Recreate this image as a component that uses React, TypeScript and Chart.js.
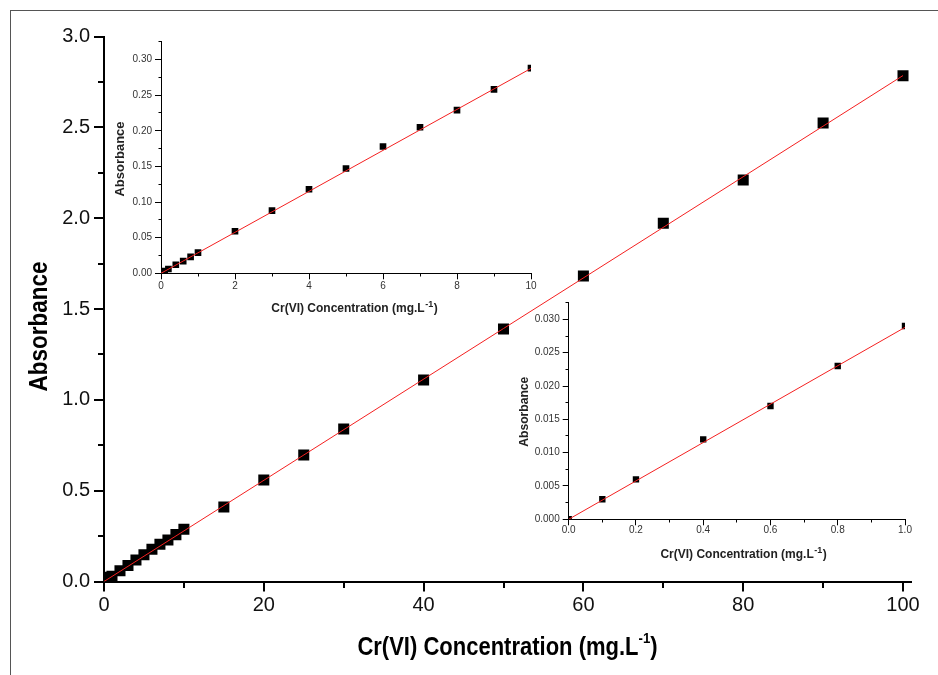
import React, { useEffect, useRef } from "react";
import { Chart, registerables } from "chart.js";

Chart.register(...registerables);

const FONT = "'Liberation Sans', Arial, Helvetica, sans-serif";

// ---- data ----
const concentration = [0, 0.1, 0.2, 0.4, 0.6, 0.8, 1, 2, 3, 4, 5, 6, 7, 8, 9, 10, 15, 20, 25, 30, 40, 50, 60, 70, 80, 90, 100];
const absorbance = [0, 0.003, 0.006, 0.012, 0.017, 0.023, 0.029, 0.059, 0.088, 0.118, 0.147, 0.178, 0.205, 0.229, 0.258, 0.288, 0.41, 0.559, 0.696, 0.839, 1.109, 1.39, 1.682, 1.972, 2.21, 2.524, 2.784];

const fitMainX = [0, 100];
const fitMainY = [0, 2.785];
const fitInsetAX = [0, 10];
const fitInsetAY = [0, 0.2875];
const fitInsetBX = [0, 1];
const fitInsetBY = [0, 0.0288];

// ---- texts ----
const xTitleMain = "Cr(VI) Concentration (mg.L";
const xTitleSup = "-1";
const xTitleTail = ")";
const yTitleText = "Absorbance";

// ---- ticks ----
const mainXMajor = [0, 20, 40, 60, 80, 100];
const mainXMinor = [10, 30, 50, 70, 90];
const mainYMajor = [0, 0.5, 1, 1.5, 2, 2.5, 3];
const mainYMinor = [0.25, 0.75, 1.25, 1.75, 2.25, 2.75];

const insetAXMajor = [0, 2, 4, 6, 8, 10];
const insetAXMinor = [1, 3, 5, 7, 9];
const insetAYMajor = [0, 0.05, 0.1, 0.15, 0.2, 0.25, 0.3];
const insetAYMinor = [0.025, 0.075, 0.125, 0.175, 0.225, 0.275, 0.325];

const insetBXMajor = [0, 0.2, 0.4, 0.6, 0.8, 1.0];
const insetBXMinor = [0.1, 0.3, 0.5, 0.7, 0.9];
const insetBYMajor = [0, 0.005, 0.01, 0.015, 0.02, 0.025, 0.03];
const insetBYMinor = [0.0025, 0.0075, 0.0125, 0.0175, 0.0225, 0.0275, 0.0325];

function align(v: number, w: number) {
  const h = w / 2;
  return Math.round(v - h) + h;
}

const minorTicksPlugin = {
  id: "minorTicks",
  afterDraw(chart: any, _a: any, o: any) {
    const { ctx, chartArea: a, scales } = chart;
    ctx.save();
    ctx.strokeStyle = o.color;
    ctx.lineWidth = o.width;
    const by = align(a.bottom, o.width);
    const lx = align(a.left, o.width);
    o.x.forEach((v: number) => {
      const px = align(scales.x.getPixelForValue(v), o.width);
      ctx.beginPath();
      ctx.moveTo(px, by);
      ctx.lineTo(px, by + o.length);
      ctx.stroke();
    });
    o.y.forEach((v: number) => {
      const py = align(scales.y.getPixelForValue(v), o.width);
      ctx.beginPath();
      ctx.moveTo(lx, py);
      ctx.lineTo(lx - o.length, py);
      ctx.stroke();
    });
    ctx.restore();
  },
};

const axisTitlesPlugin = {
  id: "axisTitles",
  afterDraw(chart: any, _a: any, o: any) {
    const { ctx, chartArea: a } = chart;
    ctx.save();
    ctx.fillStyle = o.color;
    ctx.textAlign = "left";
    ctx.textBaseline = "alphabetic";
    const mainFont = `bold ${o.xSize}px ${FONT}`;
    const supFont = `bold ${o.supSize}px ${FONT}`;
    ctx.font = mainFont;
    const w1 = ctx.measureText(xTitleMain).width;
    const w3 = ctx.measureText(xTitleTail).width;
    ctx.font = supFont;
    const w2 = ctx.measureText(xTitleSup).width;
    const total = (w1 + w2 + w3 + 2 * o.supGap) * o.xScale;
    const cx = (a.left + a.right) / 2 + o.xDx;
    ctx.translate(cx - total / 2, a.bottom + o.xBaseline);
    ctx.scale(o.xScale, 1);
    ctx.font = mainFont;
    ctx.fillText(xTitleMain, 0, 0);
    ctx.font = supFont;
    ctx.fillText(xTitleSup, w1 + o.supGap, -o.supRaise);
    ctx.font = mainFont;
    ctx.fillText(xTitleTail, w1 + w2 + 2 * o.supGap, 0);
    ctx.restore();

    ctx.save();
    ctx.fillStyle = o.color;
    ctx.translate(a.left + o.yBaseline, (a.top + a.bottom) / 2 + o.yDy);
    ctx.rotate(-Math.PI / 2);
    ctx.scale(o.yScale, 1);
    ctx.font = `bold ${o.ySize}px ${FONT}`;
    ctx.textAlign = "center";
    ctx.textBaseline = "alphabetic";
    ctx.fillText(yTitleText, 0, 0);
    ctx.restore();
  },
};

type Spec = {
  xLimit: number;
  xMin: number; xMax: number; yMin: number; yMax: number;
  xMajor: number[]; xMinor: number[]; yMajor: number[]; yMinor: number[];
  xDec: number; yDec: number;
  fitX: number[]; fitY: number[];
  pointRadius: number;
  padding: { left: number; top: number; right: number; bottom: number };
  yWidth: number; xHeight: number;
  axisWidth: number; majorLen: number; minorLen: number;
  tickFont: number; tickColor: string; xPad: number; yPad: number;
  titles: any;
};

function buildConfig(p: Spec): any {
  const pts = concentration
    .map((x, i) => ({ x, y: absorbance[i] }))
    .filter((d) => d.x <= p.xLimit);
  const fit = p.fitX.map((x, i) => ({ x, y: p.fitY[i] }));
  const axisCommon = {
    type: "linear",
    grid: {
      display: true,
      drawOnChartArea: false,
      drawTicks: true,
      tickLength: p.majorLen,
      tickWidth: p.axisWidth,
      tickColor: "#000",
      color: "#000",
      lineWidth: p.axisWidth,
    },
    border: { display: true, color: "#000", width: p.axisWidth },
  };
  return {
    type: "scatter",
    data: {
      datasets: [
        {
          type: "line",
          data: fit,
          borderColor: "#f42020",
          borderWidth: 1,
          pointRadius: 0,
          fill: false,
          tension: 0,
          clip: 0,
        },
        {
          type: "scatter",
          data: pts,
          pointStyle: "rect",
          pointRadius: p.pointRadius,
          backgroundColor: "#000",
          borderColor: "#000",
          borderWidth: 0,
          clip: 0,
        },
      ],
    },
    options: {
      responsive: false,
      animation: false,
      events: [],
      layout: { padding: p.padding },
      plugins: {
        legend: { display: false },
        tooltip: { enabled: false },
        minorTicks: { x: p.xMinor, y: p.yMinor, length: p.minorLen, width: p.axisWidth, color: "#000" },
        axisTitles: p.titles,
      },
      scales: {
        x: {
          ...axisCommon,
          min: p.xMin,
          max: p.xMax,
          afterBuildTicks: (s: any) => {
            s.ticks = p.xMajor.map((v) => ({ value: v }));
          },
          afterFit: (s: any) => {
            s.height = p.xHeight;
          },
          ticks: {
            autoSkip: false,
            maxRotation: 0,
            padding: p.xPad,
            color: p.tickColor,
            font: { family: FONT, size: p.tickFont },
            callback: (v: any) => Number(v).toFixed(p.xDec),
          },
        },
        y: {
          ...axisCommon,
          min: p.yMin,
          max: p.yMax,
          afterBuildTicks: (s: any) => {
            s.ticks = p.yMajor.map((v) => ({ value: v }));
          },
          afterFit: (s: any) => {
            s.width = p.yWidth;
          },
          ticks: {
            autoSkip: false,
            padding: p.yPad,
            color: p.tickColor,
            font: { family: FONT, size: p.tickFont },
            callback: (v: any) => Number(v).toFixed(p.yDec),
          },
        },
      },
    },
    plugins: [minorTicksPlugin, axisTitlesPlugin],
  };
}

const mainSpec: Spec = {
  xLimit: 100,
  xMin: 0, xMax: 101, yMin: 0, yMax: 3,
  xMajor: mainXMajor, xMinor: mainXMinor, yMajor: mainYMajor, yMinor: mainYMinor,
  xDec: 0, yDec: 1,
  fitX: fitMainX, fitY: fitMainY,
  pointRadius: 7.8,
  padding: { left: 0, top: 36.5, right: 27, bottom: 0 },
  yWidth: 104, xHeight: 93.5,
  axisWidth: 2, majorLen: 10, minorLen: 6,
  tickFont: 20, tickColor: "#111", xPad: 2, yPad: 4,
  titles: {
    color: "#000",
    xSize: 25, supSize: 15, supRaise: 12, supGap: 0, xScale: 0.88, xDx: 0, xBaseline: 73.5,
    ySize: 25, yScale: 0.9, yBaseline: -57.3, yDy: 17.5,
  },
};

const insetASpec: Spec = {
  xLimit: 10,
  xMin: 0, xMax: 10, yMin: 0, yMax: 0.325,
  xMajor: insetAXMajor, xMinor: insetAXMinor, yMajor: insetAYMajor, yMinor: insetAYMinor,
  xDec: 0, yDec: 2,
  fitX: fitInsetAX, fitY: fitInsetAY,
  pointRadius: 4.7,
  padding: { left: 0, top: 11.7, right: 14, bottom: 0 },
  yWidth: 61, xHeight: 51.7,
  axisWidth: 1, majorLen: 6, minorLen: 3,
  tickFont: 10, tickColor: "#333", xPad: 1, yPad: 3,
  titles: {
    color: "#222",
    xSize: 12, supSize: 9, supRaise: 5, supGap: 0.5, xScale: 1, xDx: 8.5, xBaseline: 39,
    ySize: 13, yScale: 1, yBaseline: -37, yDy: 1.5,
  },
};

const insetBSpec: Spec = {
  xLimit: 1,
  xMin: 0, xMax: 1, yMin: 0, yMax: 0.0325,
  xMajor: insetBXMajor, xMinor: insetBXMinor, yMajor: insetBYMajor, yMinor: insetBYMinor,
  xDec: 1, yDec: 3,
  fitX: fitInsetBX, fitY: fitInsetBY,
  pointRadius: 4.5,
  padding: { left: 0, top: 12.7, right: 25, bottom: 0 },
  yWidth: 58.7, xHeight: 55.7,
  axisWidth: 1, majorLen: 6, minorLen: 3,
  tickFont: 10, tickColor: "#333", xPad: -1, yPad: 3,
  titles: {
    color: "#222",
    xSize: 12, supSize: 9, supRaise: 5, supGap: 0.5, xScale: 1, xDx: 6.7, xBaseline: 39,
    ySize: 12.5, yScale: 0.97, yBaseline: -40.4, yDy: 0.7,
  },
};

export default function App() {
  const mainRef = useRef<HTMLCanvasElement>(null);
  const aRef = useRef<HTMLCanvasElement>(null);
  const bRef = useRef<HTMLCanvasElement>(null);

  useEffect(() => {
    const charts = [
      new Chart(mainRef.current as HTMLCanvasElement, buildConfig(mainSpec)),
      new Chart(aRef.current as HTMLCanvasElement, buildConfig(insetASpec)),
      new Chart(bRef.current as HTMLCanvasElement, buildConfig(insetBSpec)),
    ];
    return () => charts.forEach((c) => c.destroy());
  }, []);

  return (
    <div style={{ position: "absolute", left: 0, top: 0, width: 938, height: 675, background: "#fff", overflow: "hidden" }}>
      <div
        style={{
          position: "absolute",
          left: 10,
          top: 10,
          width: 928,
          height: 665,
          borderLeft: "1px solid #555",
          borderTop: "1px solid #555",
          boxSizing: "border-box",
        }}
      />
      <canvas ref={mainRef} width={938} height={675} style={{ position: "absolute", left: 0, top: 0 }} />
      <canvas ref={aRef} width={445} height={295} style={{ position: "absolute", left: 100, top: 30 }} />
      <canvas ref={bRef} width={420} height={285} style={{ position: "absolute", left: 510, top: 290 }} />
    </div>
  );
}
